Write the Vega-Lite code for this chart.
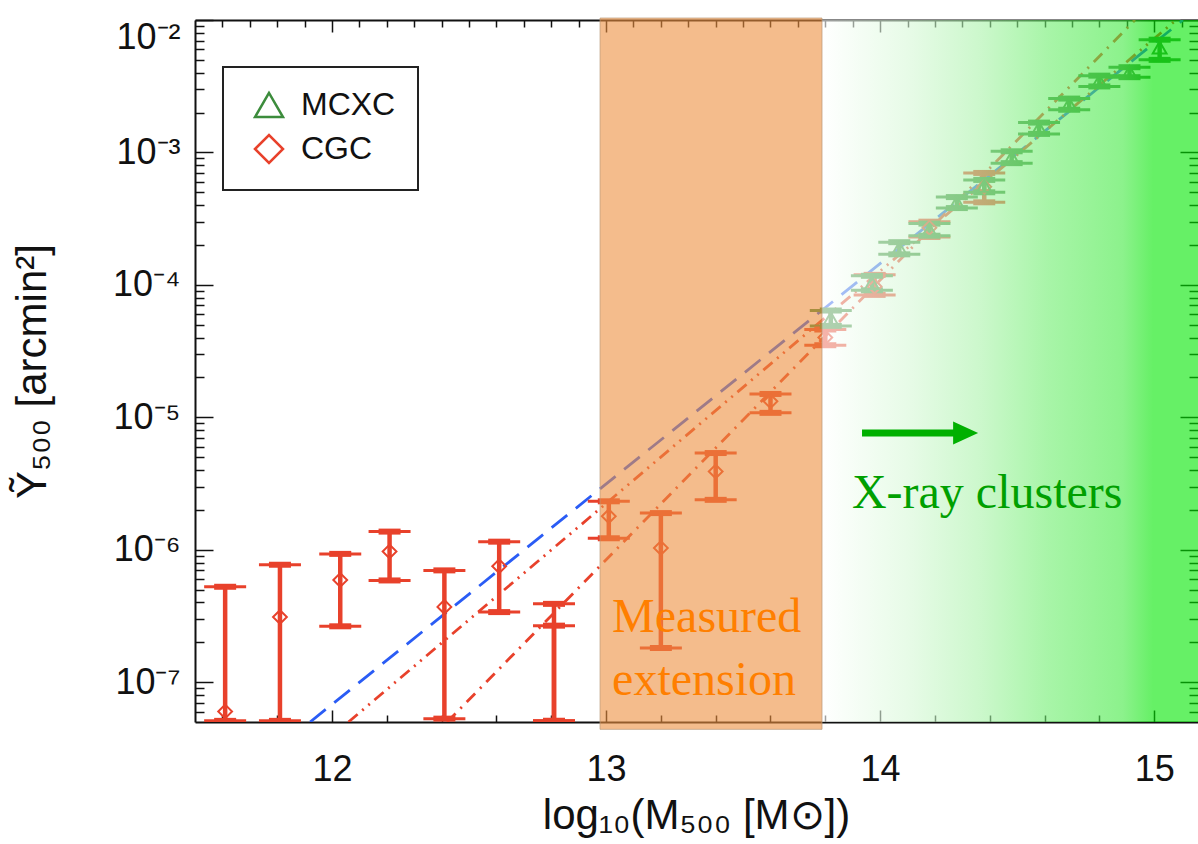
{
  "$schema": "https://vega.github.io/schema/vega-lite/v6.json",
  "width": 1003,
  "height": 702,
  "autosize": {"type": "none"},
  "padding": {"left": 195, "top": 20, "right": 0, "bottom": 122},
  "background": "white",
  "config": {
    "view": {"stroke": null},
    "axis": {
      "domainColor": "#111", "domainWidth": 2, "tickColor": "#111", "tickWidth": 1.5,
      "labelFont": "Liberation Sans", "labelFontSize": 36, "labelColor": "#111",
      "titleFont": "Liberation Sans", "titleFontSize": 42, "titleFontWeight": "normal", "titleColor": "#111",
      "grid": false, "zindex": 0
    },
    "legend": {
      "labelFont": "Liberation Sans", "labelFontSize": 32, "labelColor": "#111",
      "symbolSize": 784, "symbolStrokeWidth": 2.5, "padding": 22,
      "strokeColor": "#222", "strokeWidth": 2, "fillColor": "white", "rowPadding": 7,
      "labelOffset": 16, "symbolOffset": 8
    }
  },
  "datasets": {
    "fits": [
      {"model": "reference", "m": 11.92, "y": 5e-8},
      {"model": "reference", "m": 15.105, "y": 0.01},
      {"model": "fit 1", "m": 12.06, "y": 5e-8},
      {"model": "fit 1", "m": 15.08, "y": 0.01},
      {"model": "fit 2", "m": 12.42, "y": 5e-8},
      {"model": "fit 2", "m": 14.93, "y": 0.01}
    ],
    "clusters": [
      {"catalog": "CGC", "m": 11.61, "y": 6.0e-8, "lo": 5.1e-8, "hi": 5.25e-7},
      {"catalog": "CGC", "m": 11.81, "y": 3.1e-7, "lo": 5.1e-8, "hi": 7.7e-7},
      {"catalog": "CGC", "m": 12.03, "y": 5.9e-7, "lo": 2.64e-7, "hi": 9.3e-7},
      {"catalog": "CGC", "m": 12.21, "y": 9.7e-7, "lo": 5.86e-7, "hi": 1.37e-6},
      {"catalog": "CGC", "m": 12.41, "y": 3.7e-7, "lo": 5.3e-8, "hi": 6.98e-7},
      {"catalog": "CGC", "m": 12.61, "y": 7.5e-7, "lo": 3.38e-7, "hi": 1.15e-6},
      {"catalog": "CGC", "m": 12.81, "y": null, "lo": 5.1e-8, "hi": 3.9e-7},
      {"catalog": "CGC", "m": 12.81, "y": null, "lo": 5.1e-8, "hi": 2.67e-7},
      {"catalog": "CGC", "m": 13.01, "y": 1.79e-6, "lo": 1.22e-6, "hi": 2.32e-6},
      {"catalog": "CGC", "m": 13.2, "y": 1.03e-6, "lo": 1.81e-7, "hi": 1.89e-6},
      {"catalog": "CGC", "m": 13.4, "y": 3.9e-6, "lo": 2.38e-6, "hi": 5.37e-6},
      {"catalog": "CGC", "m": 13.6, "y": 1.32e-5, "lo": 1.08e-5, "hi": 1.5e-5},
      {"catalog": "CGC", "m": 13.8, "y": 4.0e-5, "lo": 3.5e-5, "hi": 4.6e-5},
      {"catalog": "CGC", "m": 13.98, "y": 9.7e-5, "lo": 8.4e-5, "hi": 1.19e-4},
      {"catalog": "CGC", "m": 14.18, "y": 2.7e-4, "lo": 2.3e-4, "hi": 3.0e-4},
      {"catalog": "CGC", "m": 14.38, "y": 5.5e-4, "lo": 4.2e-4, "hi": 7.0e-4},
      {"catalog": "MCXC", "m": 13.82, "y": 5.6e-5, "lo": 4.9e-5, "hi": 6.4e-5},
      {"catalog": "MCXC", "m": 13.97, "y": 1.03e-4, "lo": 9.1e-5, "hi": 1.17e-4},
      {"catalog": "MCXC", "m": 14.07, "y": 1.9e-4, "lo": 1.7e-4, "hi": 2.1e-4},
      {"catalog": "MCXC", "m": 14.18, "y": 2.6e-4, "lo": 2.35e-4, "hi": 2.9e-4},
      {"catalog": "MCXC", "m": 14.28, "y": 4.2e-4, "lo": 3.8e-4, "hi": 4.6e-4},
      {"catalog": "MCXC", "m": 14.38, "y": 5.6e-4, "lo": 5.0e-4, "hi": 6.2e-4},
      {"catalog": "MCXC", "m": 14.48, "y": 9.2e-4, "lo": 8.3e-4, "hi": 1.02e-3},
      {"catalog": "MCXC", "m": 14.58, "y": 1.53e-3, "lo": 1.38e-3, "hi": 1.68e-3},
      {"catalog": "MCXC", "m": 14.69, "y": 2.32e-3, "lo": 2.1e-3, "hi": 2.55e-3},
      {"catalog": "MCXC", "m": 14.8, "y": 3.47e-3, "lo": 3.15e-3, "hi": 3.8e-3},
      {"catalog": "MCXC", "m": 14.91, "y": 4.05e-3, "lo": 3.7e-3, "hi": 4.4e-3},
      {"catalog": "MCXC", "m": 15.02, "y": 6.2e-3, "lo": 5.0e-3, "hi": 7.1e-3}
    ]
  },
  "layer": [
    {
      "layer": [
        {
          "data": {"name": "fits"},
          "transform": [{"filter": "datum.model == 'reference'"}],
          "mark": {"type": "line", "strokeWidth": 2.8, "clip": true, "color": "#2a5cf5", "strokeDash": [20, 11]},
          "encoding": {
            "x": {
              "field": "m", "type": "quantitative",
              "scale": {"domain": [11.5, 15.16], "nice": false, "zero": false},
              "title": "log₁₀(M₅₀₀ [M⊙])",
              "axis": {
                "orient": "bottom",
                "values": [11.6,11.7,11.8,11.9,12,12.1,12.2,12.3,12.4,12.5,12.6,12.7,12.8,12.9,13,13.1,13.2,13.3,13.4,13.5,13.6,13.7,13.8,13.9,14,14.1,14.2,14.3,14.4,14.5,14.6,14.7,14.8,14.9,15,15.1],
                "labelExpr": "abs(datum.value - round(datum.value)) < 0.01 ? format(datum.value, 'd') : ''",
                "labelFlush": false, "labelOverlap": false, "labelBound": false,
                "tickSize": {"condition": {"test": "abs(datum.value - round(datum.value)) < 0.01", "value": -12}, "value": -7},
                "labelPadding": 42,
                "titleX": 501, "titleY": 106, "titleBaseline": "alphabetic", "titleAlign": "center"
              }
            },
            "y": {
              "field": "y", "type": "quantitative",
              "scale": {"type": "log", "domain": [5e-8, 0.01], "nice": false},
              "title": "Ỹ₅₀₀ [arcmin²]",
              "axis": {
                "orient": "left",
                "values": [6e-8,7e-8,8e-8,9e-8,1e-7,2e-7,3e-7,4e-7,5e-7,6e-7,7e-7,8e-7,9e-7,1e-6,2e-6,3e-6,4e-6,5e-6,6e-6,7e-6,8e-6,9e-6,1e-5,2e-5,3e-5,4e-5,5e-5,6e-5,7e-5,8e-5,9e-5,1e-4,2e-4,3e-4,4e-4,5e-4,6e-4,7e-4,8e-4,9e-4,1e-3,2e-3,3e-3,4e-3,5e-3,6e-3,7e-3,8e-3,9e-3,1e-2],
                "labelExpr": "abs(log(datum.value)/LN10 - round(log(datum.value)/LN10)) < 0.01 ? '10⁻' + ['⁰','¹','²','³','⁴','⁵','⁶','⁷','⁸','⁹'][-round(log(datum.value)/LN10)] : ''",
                "labelFlush": true, "labelOverlap": false, "labelBound": false,
                "tickSize": {"condition": {"test": "abs(log(datum.value)/LN10 - round(log(datum.value)/LN10)) < 0.01", "value": -18}, "value": -9},
                "labelPadding": 33,
                "titleX": -150, "titleY": 351, "titleAngle": 270, "titleBaseline": "alphabetic", "titleAlign": "center"
              }
            }
          }
        },
        {
          "data": {"name": "fits"},
          "transform": [{"filter": "datum.model == 'fit 1'"}],
          "mark": {"type": "line", "strokeWidth": 2.8, "clip": true, "color": "#e8412b", "strokeDash": [12, 6, 2, 6, 2, 6]},
          "encoding": {
            "x": {"field": "m", "type": "quantitative", "scale": {"domain": [11.5, 15.16], "nice": false, "zero": false}, "title": "log₁₀(M₅₀₀ [M⊙])"},
            "y": {"field": "y", "type": "quantitative", "scale": {"type": "log", "domain": [5e-8, 0.01], "nice": false}, "title": "Ỹ₅₀₀ [arcmin²]"}
          }
        },
        {
          "data": {"name": "fits"},
          "transform": [{"filter": "datum.model == 'fit 2'"}],
          "mark": {"type": "line", "strokeWidth": 2.8, "clip": true, "color": "#e8412b", "strokeDash": [12, 7, 2, 7]},
          "encoding": {
            "x": {"field": "m", "type": "quantitative", "scale": {"domain": [11.5, 15.16], "nice": false, "zero": false}, "title": "log₁₀(M₅₀₀ [M⊙])"},
            "y": {"field": "y", "type": "quantitative", "scale": {"type": "log", "domain": [5e-8, 0.01], "nice": false}, "title": "Ỹ₅₀₀ [arcmin²]"}
          }
        },
        {
          "data": {"name": "clusters"},
          "mark": {"type": "rule", "strokeWidth": 4.5, "clip": true},
          "encoding": {
            "x": {"field": "m", "type": "quantitative", "scale": {"domain": [11.5, 15.16], "nice": false, "zero": false}, "title": "log₁₀(M₅₀₀ [M⊙])"},
            "y": {"field": "lo", "type": "quantitative", "scale": {"type": "log", "domain": [5e-8, 0.01], "nice": false}, "title": "Ỹ₅₀₀ [arcmin²]"},
            "y2": {"field": "hi"},
            "stroke": {"field": "catalog", "type": "nominal", "scale": {"domain": ["CGC", "MCXC"], "range": ["#e8412b", "#3c8c3c"]}, "legend": null}
          }
        },
        {
          "data": {"name": "clusters"},
          "transform": [{"fold": ["lo", "hi"], "as": ["end", "yv"]}],
          "mark": {"type": "point", "shape": "stroke", "size": 1764, "strokeWidth": 3, "filled": false, "opacity": 1, "clip": true},
          "encoding": {
            "x": {"field": "m", "type": "quantitative", "scale": {"domain": [11.5, 15.16], "nice": false, "zero": false}, "title": "log₁₀(M₅₀₀ [M⊙])"},
            "y": {"field": "yv", "type": "quantitative", "scale": {"type": "log", "domain": [5e-8, 0.01], "nice": false}, "title": "Ỹ₅₀₀ [arcmin²]"},
            "stroke": {"field": "catalog", "type": "nominal", "scale": {"domain": ["CGC", "MCXC"], "range": ["#e8412b", "#3c8c3c"]}, "legend": null}
          }
        },
        {
          "data": {"name": "clusters"},
          "transform": [{"fold": ["lo", "hi"], "as": ["end", "yv"]}],
          "mark": {"type": "point", "shape": "stroke", "size": 484, "strokeWidth": 6, "filled": false, "opacity": 1, "clip": true},
          "encoding": {
            "x": {"field": "m", "type": "quantitative", "scale": {"domain": [11.5, 15.16], "nice": false, "zero": false}, "title": "log₁₀(M₅₀₀ [M⊙])"},
            "y": {"field": "yv", "type": "quantitative", "scale": {"type": "log", "domain": [5e-8, 0.01], "nice": false}, "title": "Ỹ₅₀₀ [arcmin²]"},
            "stroke": {"field": "catalog", "type": "nominal", "scale": {"domain": ["CGC", "MCXC"], "range": ["#e8412b", "#3c8c3c"]}, "legend": null}
          }
        },
        {
          "data": {"name": "clusters"},
          "mark": {"type": "point", "filled": false, "strokeWidth": 2, "size": 190, "opacity": 1, "clip": true},
          "encoding": {
            "x": {"field": "m", "type": "quantitative", "scale": {"domain": [11.5, 15.16], "nice": false, "zero": false}, "title": "log₁₀(M₅₀₀ [M⊙])"},
            "y": {"field": "y", "type": "quantitative", "scale": {"type": "log", "domain": [5e-8, 0.01], "nice": false}, "title": "Ỹ₅₀₀ [arcmin²]"},
            "color": {"field": "catalog", "type": "nominal", "scale": {"domain": ["MCXC", "CGC"], "range": ["#3c8c3c", "#e8412b"]}, "legend": {"title": null, "orient": "none", "legendX": 28, "legendY": 47}},
            "shape": {"field": "catalog", "type": "nominal", "scale": {"domain": ["MCXC", "CGC"], "range": ["triangle-up", "diamond"]}, "legend": {"title": null, "orient": "none", "legendX": 28, "legendY": 47}}
          }
        },
        {
          "data": {"values": [{}]},
          "mark": {
            "type": "rect", "fillOpacity": 0.6, "clip": true,
            "fill": {
              "gradient": "linear", "x1": 0, "y1": 0, "x2": 1, "y2": 0,
              "stops": [
                {"offset": 0, "color": "#ffffff"},
                {"offset": 0.24, "color": "#d5f8d5"},
                {"offset": 0.42, "color": "#aaf3aa"},
                {"offset": 0.6, "color": "#6eee6e"},
                {"offset": 0.8, "color": "#3fe93f"},
                {"offset": 0.88, "color": "#00e600"},
                {"offset": 1, "color": "#00e600"}
              ]
            }
          },
          "encoding": {
            "x": {"datum": 13.788, "type": "quantitative", "scale": {"domain": [11.5, 15.16], "nice": false, "zero": false}, "title": "log₁₀(M₅₀₀ [M⊙])"},
            "x2": {"datum": 15.16}
          }
        },
        {
          "data": {"values": [{}]},
          "mark": {"type": "rect", "fill": "#ed9040", "fillOpacity": 0.6, "stroke": "#b89878", "strokeWidth": 1, "strokeOpacity": 0.7, "clip": false},
          "encoding": {
            "x": {"datum": 12.978, "type": "quantitative", "scale": {"domain": [11.5, 15.16], "nice": false, "zero": false}, "title": "log₁₀(M₅₀₀ [M⊙])"},
            "x2": {"datum": 13.788},
            "y": {"datum": 0.01035, "type": "quantitative", "scale": {"type": "log", "domain": [5e-8, 0.01], "nice": false}, "title": "Ỹ₅₀₀ [arcmin²]"},
            "y2": {"datum": 4.4e-8}
          }
        },
        {
          "data": {"values": [{}]},
          "mark": {"type": "rule", "strokeWidth": 7, "color": "#00b000"},
          "encoding": {
            "x": {"datum": 13.934, "type": "quantitative", "scale": {"domain": [11.5, 15.16], "nice": false, "zero": false}, "title": "log₁₀(M₅₀₀ [M⊙])"},
            "x2": {"datum": 14.275},
            "y": {"datum": 7.6e-6, "type": "quantitative", "scale": {"type": "log", "domain": [5e-8, 0.01], "nice": false}, "title": "Ỹ₅₀₀ [arcmin²]"}
          }
        },
        {
          "data": {"values": [{}]},
          "mark": {"type": "point", "shape": "M -1 -0.92 L 1 0 L -1 0.92 Z", "size": 625, "filled": true, "color": "#00b000", "opacity": 1, "strokeWidth": 0},
          "encoding": {
            "x": {"datum": 14.312, "type": "quantitative", "scale": {"domain": [11.5, 15.16], "nice": false, "zero": false}, "title": "log₁₀(M₅₀₀ [M⊙])"},
            "y": {"datum": 7.6e-6, "type": "quantitative", "scale": {"type": "log", "domain": [5e-8, 0.01], "nice": false}, "title": "Ỹ₅₀₀ [arcmin²]"}
          }
        },
        {
          "data": {"values": [{}]},
          "mark": {"type": "text", "text": ["Measured", "extension"], "font": "Liberation Serif", "fontSize": 48, "lineHeight": 63, "align": "left", "baseline": "alphabetic", "color": "#ff7f00"},
          "encoding": {
            "x": {"datum": 13.022, "type": "quantitative", "scale": {"domain": [11.5, 15.16], "nice": false, "zero": false}, "title": "log₁₀(M₅₀₀ [M⊙])"},
            "y": {"datum": 2.39e-7, "type": "quantitative", "scale": {"type": "log", "domain": [5e-8, 0.01], "nice": false}, "title": "Ỹ₅₀₀ [arcmin²]"}
          }
        },
        {
          "data": {"values": [{}]},
          "mark": {"type": "text", "text": "X-ray clusters", "font": "Liberation Serif", "fontSize": 48, "align": "left", "baseline": "alphabetic", "color": "#00a000"},
          "encoding": {
            "x": {"datum": 13.897, "type": "quantitative", "scale": {"domain": [11.5, 15.16], "nice": false, "zero": false}, "title": "log₁₀(M₅₀₀ [M⊙])"},
            "y": {"datum": 2.06e-6, "type": "quantitative", "scale": {"type": "log", "domain": [5e-8, 0.01], "nice": false}, "title": "Ỹ₅₀₀ [arcmin²]"}
          }
        }
      ]
    },
    {
      "data": {"values": [{}]},
      "mark": {"type": "point", "opacity": 0},
      "encoding": {
        "x": {
          "datum": 13, "type": "quantitative",
          "scale": {"domain": [11.5, 15.16], "nice": false, "zero": false},
          "axis": {
            "orient": "top", "title": null, "labels": false,
            "values": [11.6,11.7,11.8,11.9,12,12.1,12.2,12.3,12.4,12.5,12.6,12.7,12.8,12.9,13,13.1,13.2,13.3,13.4,13.5,13.6,13.7,13.8,13.9,14,14.1,14.2,14.3,14.4,14.5,14.6,14.7,14.8,14.9,15,15.1],
            "tickSize": {"condition": {"test": "abs(datum.value - round(datum.value)) < 0.01", "value": -12}, "value": -7}
          }
        },
        "y": {
          "datum": 0.0001, "type": "quantitative",
          "scale": {"type": "log", "domain": [5e-8, 0.01], "nice": false},
          "axis": {
            "orient": "right", "title": null, "labels": false, "domain": false,
            "values": [6e-8,7e-8,8e-8,9e-8,1e-7,2e-7,3e-7,4e-7,5e-7,6e-7,7e-7,8e-7,9e-7,1e-6,2e-6,3e-6,4e-6,5e-6,6e-6,7e-6,8e-6,9e-6,1e-5,2e-5,3e-5,4e-5,5e-5,6e-5,7e-5,8e-5,9e-5,1e-4,2e-4,3e-4,4e-4,5e-4,6e-4,7e-4,8e-4,9e-4,1e-3,2e-3,3e-3,4e-3,5e-3,6e-3,7e-3,8e-3,9e-3,1e-2],
            "tickSize": {"condition": {"test": "abs(log(datum.value)/LN10 - round(log(datum.value)/LN10)) < 0.01", "value": -18}, "value": -9}
          }
        }
      }
    }
  ],
  "resolve": {"scale": {"x": "independent", "y": "independent"}}
}
